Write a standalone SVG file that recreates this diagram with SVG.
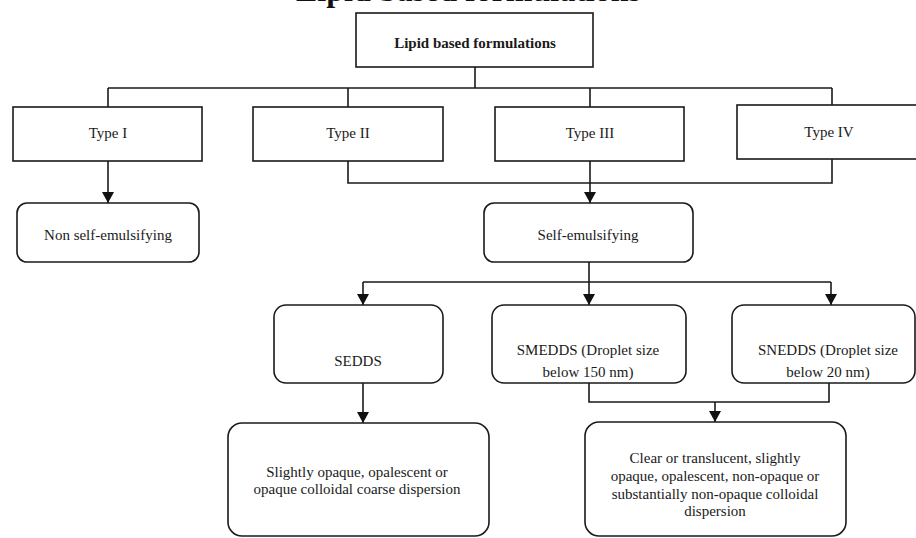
<svg xmlns="http://www.w3.org/2000/svg" width="916" height="538" viewBox="0 0 916 538">
<defs>
<style>
.box{fill:#fff;stroke:#1a1a1a;stroke-width:1.6}
.t{font-family:"Liberation Serif","Times New Roman",serif;font-size:15px;fill:#1a1a1a;text-anchor:middle}
.b{font-weight:bold}
.c{fill:none;stroke:#1a1a1a;stroke-width:1.6}
</style>
<marker id="ah" markerUnits="userSpaceOnUse" markerWidth="12" markerHeight="15" refX="11" refY="6" orient="auto">
<path d="M0,0 L11,6 L0,12 Z" fill="#111"/>
</marker>
</defs>
<rect width="916" height="538" fill="#fff"/>
<text x="296" y="1" font-family="Liberation Serif, serif" font-weight="bold" font-size="32" fill="#111">Lipid based formulations</text>

<g id="connectors">
<path class="c" d="M475,67 V88 M108,88 H832 M108,88 V107 M348,88 V107 M590,88 V107 M832,88 V105"/>
<path class="c" d="M108,161 V203" marker-end="url(#ah)"/>
<path class="c" d="M348,161 V183 H832 V159"/>
<path class="c" d="M590,161 V203" marker-end="url(#ah)"/>
<path class="c" d="M589,262 V282 M363,282 H831"/>
<path class="c" d="M363,282 V305" marker-end="url(#ah)"/>
<path class="c" d="M589,282 V305" marker-end="url(#ah)"/>
<path class="c" d="M831,282 V305" marker-end="url(#ah)"/>
<path class="c" d="M363,383 V423" marker-end="url(#ah)"/>
<path class="c" d="M589,383 V402 H829 V383"/>
<path class="c" d="M715,402 V422" marker-end="url(#ah)"/>
</g>

<g id="lipid">
<rect class="box" x="356" y="13" width="237" height="54"/>
<text class="t b" x="475" y="48">Lipid based formulations</text>
</g>
<g id="type1">
<rect class="box" x="13" y="107" width="189" height="54"/>
<text class="t" x="108" y="138">Type I</text>
</g>
<g id="type2">
<rect class="box" x="253" y="107" width="190" height="54"/>
<text class="t" x="348" y="138">Type II</text>
</g>
<g id="type3">
<rect class="box" x="495" y="107" width="189" height="54"/>
<text class="t" x="590" y="138">Type III</text>
</g>
<g id="type4">
<rect class="box" x="737" y="105" width="190" height="54"/>
<text class="t" x="829" y="137">Type IV</text>
</g>
<g id="nonself">
<rect class="box" x="17" y="203" width="182" height="59" rx="10"/>
<text class="t" x="108" y="240">Non self-emulsifying</text>
</g>
<g id="self">
<rect class="box" x="484" y="203" width="209" height="59" rx="10"/>
<text class="t" x="588" y="240">Self-emulsifying</text>
</g>
<g id="sedds">
<rect class="box" x="274" y="305" width="169" height="78" rx="12"/>
<text class="t" x="358" y="366">SEDDS</text>
</g>
<g id="smedds">
<rect class="box" x="492" y="305" width="194" height="78" rx="12"/>
<text class="t" x="588" y="355">SMEDDS (Droplet size</text>
<text class="t" x="588" y="377">below 150 nm)</text>
</g>
<g id="snedds">
<rect class="box" x="732" y="305" width="183" height="78" rx="12"/>
<text class="t" x="828" y="355">SNEDDS (Droplet size</text>
<text class="t" x="828" y="377">below 20 nm)</text>
</g>
<g id="coarse">
<rect class="box" x="228" y="423" width="261" height="113" rx="14"/>
<text class="t" x="357" y="477">Slightly opaque, opalescent or</text>
<text class="t" x="357" y="494">opaque colloidal coarse dispersion</text>
</g>
<g id="clear">
<rect class="box" x="585" y="422" width="261" height="114" rx="14"/>
<text class="t" x="715" y="463">Clear or translucent, slightly</text>
<text class="t" x="715" y="481">opaque, opalescent, non-opaque or</text>
<text class="t" x="715" y="499">substantially non-opaque colloidal</text>
<text class="t" x="715" y="516">dispersion</text>
</g>
</svg>
